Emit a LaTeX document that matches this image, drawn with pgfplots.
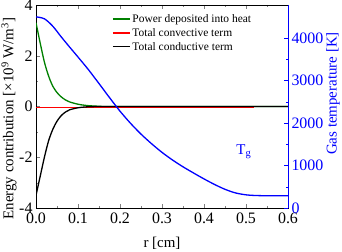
\documentclass[border=0pt]{standalone}
\usepackage{pgfplots}
\pgfplotsset{compat=1.18}
\usepackage{fontspec}
\setmainfont{Liberation Serif}
\definecolor{dgreen}{RGB}{0,128,0}
\begin{document}
\begin{tikzpicture}
\pgfplotsset{
  common/.style={
    scale only axis, width=252bp, height=203bp,
    xmin=0, xmax=0.6,
    tick align=inside,
    major tick length=4bp, minor tick length=2bp,
    /pgf/number format/assume math mode=true,
    tick label style={font=\fontsize{16}{16}\selectfont},
    label style={font=\fontsize{15}{15}\selectfont},
  }
}
\begin{axis}[common,
  ymin=-4, ymax=4,
  xtick={0,0.1,0.2,0.3,0.4,0.5,0.6}, minor x tick num=1,
  ytick={-4,-2,0,2,4}, minor y tick num=1,
  xtick pos=both, ytick pos=left,
  xticklabel={\pgfmathprintnumber[fixed,fixed zerofill,precision=1]{\tick}},
  xticklabel style={yshift=-1bp},
  xlabel={r [cm]},
  xlabel style={at={(axis description cs:0.5,-0.175)}, anchor=center},
  ylabel={Energy contribution [×10\textsuperscript{9} W/m\textsuperscript{3}]},
  ylabel style={at={(axis description cs:-0.107,0.44)}, anchor=center},
  legend style={at={(0.29,0.975)}, anchor=north west, draw=none, fill=none,
    font=\fontsize{11.5}{13}\selectfont, row sep=0.5bp,
    legend cell align=left},
  legend image post style={line width=1.2bp},
]
\addplot[dgreen, line width=1.3bp, smooth] coordinates {
(0,3.3) (0.01,2.5) (0.02,1.75) (0.03,1.2) (0.04,0.8) (0.05,0.55) (0.06,0.38)
(0.07,0.26) (0.08,0.18) (0.1,0.09) (0.12,0.04) (0.15,0.01) (0.2,0) (0.6,0)};
\addlegendentry{Power deposited into heat}
\addplot[red, line width=1.3bp] coordinates {
(0,-0.03) (0.1,-0.03) (0.2,-0.03) (0.3,-0.03) (0.4,-0.03) (0.52,-0.03)};
\addlegendentry{Total convective term}
\addplot[black, line width=1.3bp, smooth] coordinates {
(0,-3.5) (0.01,-2.75) (0.02,-2.0) (0.03,-1.35) (0.04,-0.9) (0.05,-0.58) (0.06,-0.36)
(0.07,-0.22) (0.08,-0.13) (0.1,-0.05) (0.12,-0.015) (0.15,0) (0.2,0) (0.6,0)};
\addlegendentry{Total conductive term}
\end{axis}
\begin{axis}[common,
  ymin=0, ymax=4780,
  axis x line=none,
  axis y line*=right,
  y axis line style={blue, line width=0.8bp},
  ytick={0,1000,2000,3000,4000}, minor y tick num=1,
  y tick style={blue},
  yticklabel style={blue},
  /pgf/number format/1000 sep={},
  ylabel={Gas temperature [K]},
  ylabel style={blue, at={(axis description cs:1.179,0.564)}, anchor=center},
]
\addplot[blue, line width=1.3bp, smooth] coordinates {
(0,4500) (0.02,4455) (0.04,4280) (0.06,4030) (0.08,3790) (0.1,3555) (0.125,3255)
(0.15,2930) (0.175,2600) (0.2,2280) (0.225,1995) (0.25,1740) (0.275,1515) (0.3,1310)
(0.325,1130) (0.35,970) (0.375,825) (0.4,685) (0.425,555) (0.45,440) (0.475,355)
(0.5,310) (0.525,293) (0.55,290) (0.6,290)};
\node[blue, font=\fontsize{15}{15}\selectfont] at (axis cs:0.495,1330) {T\textsubscript{g}};
\end{axis}
\pgfresetboundingbox
\path[use as bounding box] (current axis.south west) ++(-36bp,-44bp) rectangle ++(342bp,252bp);
\end{tikzpicture}
\end{document}
